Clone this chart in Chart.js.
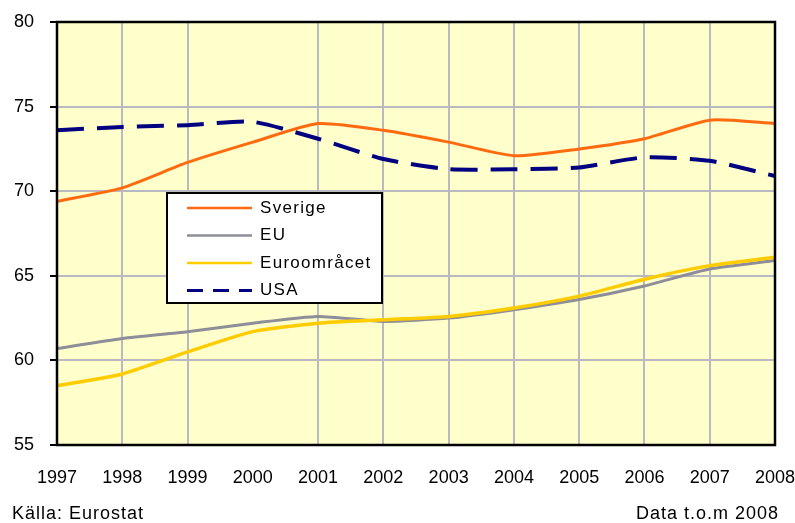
<!DOCTYPE html>
<html>
<head>
<meta charset="utf-8">
<script src="https://cdn.jsdelivr.net/npm/chart.js@4/dist/chart.umd.min.js"></script>
<style>
  html, body { margin: 0; padding: 0; background: #fff; }
  #wrap { width: 795px; height: 523px; position: relative; }
</style>
</head>
<body>
<div id="wrap"><canvas id="sysselsattning"></canvas></div>
<script>
// years on the x axis
var years = ['1997','1998','1999','2000','2001','2002','2003','2004','2005','2006','2007','2008'];

// series
var sverige = [69.4, 70.2, 71.7, 72.9, 74.0, 73.6, 72.9, 72.1, 72.5, 73.1, 74.2, 74.0];
var eu      = [60.7, 61.3, 61.7, 62.2, 62.6, 62.3, 62.5, 63.0, 63.6, 64.4, 65.4, 65.9];
var euro    = [58.5, 59.2, 60.5, 61.7, 62.2, 62.4, 62.6, 63.1, 63.8, 64.8, 65.6, 66.1];
var usa     = [73.6, 73.8, 73.9, 74.1, 73.1, 71.9, 71.3, 71.3, 71.4, 72.0, 71.8, 70.9];

var yMin = 55, yMax = 80, yStep = 5;
var sourceText = 'Källa: Eurostat';
var noteText = 'Data t.o.m 2008';

var font_family = '"Liberation Sans", Arial, sans-serif';
var grid_color = '#b9b9c2';

// yellow plot background + black frame + footer
var plotFrame = {
  id: 'plotFrame',
  beforeDraw: function(chart) {
    var a = chart.chartArea, ctx = chart.ctx;
    ctx.save();
    ctx.fillStyle = '#ffffcc';
    ctx.fillRect(a.left, a.top, a.right - a.left, a.bottom - a.top);
    ctx.restore();
  },
  afterDraw: function(chart) {
    var a = chart.chartArea, ctx = chart.ctx;
    ctx.save();
    ctx.strokeStyle = '#000';
    ctx.lineWidth = 2.5;
    ctx.strokeRect(a.left, a.top, a.right - a.left, a.bottom - a.top);
    ctx.fillStyle = '#000';
    ctx.font = '18px ' + font_family;
    ctx.letterSpacing = '1px';
    ctx.textBaseline = 'middle';
    ctx.textAlign = 'left';
    ctx.fillText(sourceText, 12, 514);
    ctx.textAlign = 'right';
    ctx.fillText(noteText, 779, 514);
    ctx.restore();
  }
};

// boxed legend sitting inside the plot
var boxLegend = {
  id: 'boxLegend',
  afterDatasetsDraw: function(chart) {
    var ctx = chart.ctx;
    var x = 167, y = 193, w = 215, h = 110;
    ctx.save();
    ctx.fillStyle = '#fff';
    ctx.fillRect(x, y, w, h);
    ctx.strokeStyle = '#000';
    ctx.lineWidth = 2;
    ctx.strokeRect(x, y, w, h);
    ctx.font = '17px ' + font_family;
    ctx.letterSpacing = '1.3px';
    ctx.textBaseline = 'middle';
    ctx.textAlign = 'left';
    chart.data.datasets.forEach(function(ds, i) {
      var ly = y + 15 + i * 27.5;
      ctx.beginPath();
      ctx.strokeStyle = ds.borderColor;
      ctx.lineWidth = ds.borderDash ? 3 : 2.5;
      ctx.setLineDash(ds.borderDash ? [16, 10] : []);
      ctx.moveTo(x + 20, ly);
      ctx.lineTo(x + 85, ly);
      ctx.stroke();
      ctx.setLineDash([]);
      ctx.fillStyle = '#000';
      ctx.fillText(ds.label, x + 93, ly);
    });
    ctx.restore();
  }
};

var ctx = document.getElementById('sysselsattning').getContext('2d');
var myChart = new Chart(ctx, {
  type: 'line',
  data: {
    labels: years,
    datasets: [
      { label: 'Sverige', data: sverige, borderColor: '#ff6a10', borderWidth: 3, order: 3 },
      { label: 'EU', data: eu, borderColor: '#8e8e98', borderWidth: 3, order: 2 },
      { label: 'Euroområcet', data: euro, borderColor: '#ffcc00', borderWidth: 3.5, order: 1 },
      { label: 'USA', data: usa, borderColor: '#000080', borderWidth: 4, borderDash: [27, 13], order: 0 }
    ]
  },
  options: {
    responsive: true,
    maintainAspectRatio: false,
    animation: false,
    elements: {
      point: { radius: 0, hoverRadius: 0 },
      line: { tension: 0.2, fill: false, borderCapStyle: 'butt' }
    },
    layout: { padding: { left: 0, right: 20, top: 22, bottom: 30 } },
    plugins: {
      legend: { display: false },
      tooltip: { enabled: false }
    },
    scales: {
      x: {
        grid: {
          drawTicks: false,
          lineWidth: 2,
          color: function(c) {
            // the 2000 line is not drawn in the original
            if (c.index === 3) return 'rgba(0,0,0,0)';
            return grid_color;
          }
        },
        border: { display: false },
        ticks: {
          color: '#000',
          font: { family: font_family, size: 18 },
          padding: 22,
          autoSkip: false,
          maxRotation: 0
        },
        afterFit: function(scale) {
          scale.height = 48;
          scale.paddingLeft = 0;
          scale.paddingRight = 0;
        }
      },
      y: {
        min: yMin,
        max: yMax,
        grid: { lineWidth: 2, color: grid_color, tickColor: '#000', tickLength: 7, tickWidth: 2 },
        border: { display: false },
        ticks: {
          stepSize: yStep,
          color: '#000',
          font: { family: font_family, size: 18 },
          padding: 16
        },
        afterFit: function(scale) {
          scale.width = 57;
          scale.paddingTop = 0;
          scale.paddingBottom = 0;
        }
      }
    }
  },
  plugins: [plotFrame, boxLegend]
});
</script>
</body>
</html>
